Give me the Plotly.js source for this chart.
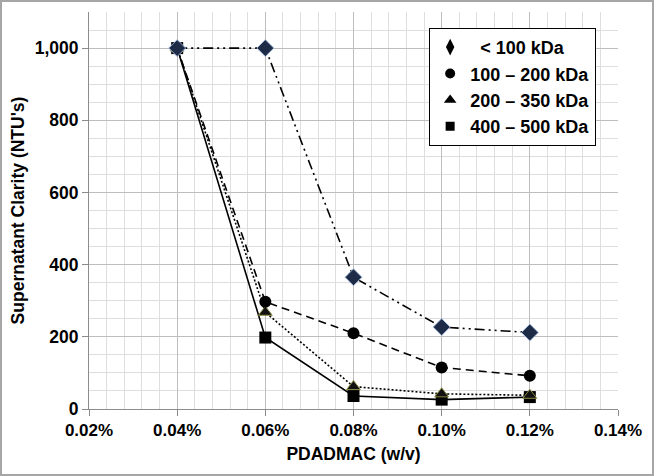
<!DOCTYPE html>
<html><head><meta charset="utf-8">
<script src="https://cdn.plot.ly/plotly-3.0.1.min.js"></script>
<style>body{margin:0;background:#fff}#wrap{position:relative;width:654px;height:476px}#chart{width:654px;height:476px}#frame{position:absolute;left:0;top:0;width:654px;height:476px;box-sizing:border-box;border:2px solid #a6a6a6;pointer-events:none}</style>
</head><body>
<div id="wrap"><div id="chart"></div><div id="frame"></div></div>
<script>
const dose = [0.0004, 0.0006, 0.0008, 0.0010, 0.0012];
const seriesNames = ['< 100 kDa', '100 – 200 kDa', '200 – 350 kDa', '400 – 500 kDa'];
const lt100 = [1000, 1000, 365, 227, 212];
const s100_200 = [1000, 297, 210, 115, 92];
const s200_350 = [1000, 268, 62, 42, 38];
const s400_500 = [1000, 198, 36, 26, 33];
const xTickVals = [0.0002, 0.0004, 0.0006, 0.0008, 0.0010, 0.0012, 0.0014];
const xTickText = ['0.02%', '0.04%', '0.06%', '0.08%', '0.10%', '0.12%', '0.14%'];
const yTickVals = [0, 200, 400, 600, 800, 1000];
const yTickText = ['0', '200', '400', '600', '800', '1,000'];

const values = [lt100, s100_200, s200_350, s400_500];
const dashes = ['10px,4px,2px,4px,2px,4px', '8px,5px', '2px,2px', 'solid'];
const markers = [
  {symbol: 'diamond', size: 13, color: '#1d2b47', line: {color: '#9fb4d8', width: 1}},
  {symbol: 'circle', size: 12, color: '#000', line: {color: '#000', width: 0}},
  {symbol: 'triangle-up', size: 12, color: '#111', line: {color: '#8a8a40', width: 1}},
  {symbol: 'square', size: 12, color: '#000', line: {color: '#000', width: 0}}
];
const legendMarkers = [
  {symbol: 'diamond-tall', size: 12, color: '#000'},
  {symbol: 'circle', size: 10, color: '#000'},
  {symbol: 'triangle-up', size: 11, color: '#000'},
  {symbol: 'square', size: 9, color: '#000'}
];
const legendLabels = [' &nbsp;< 100 kDa', '100 – 200 kDa', '200 – 350 kDa', '400 – 500 kDa'];

const traces = [];
for (let i = 3; i >= 0; i--) {
  traces.push({
    x: dose, y: values[i], type: 'scatter', mode: 'lines+markers',
    name: seriesNames[i], showlegend: false,
    line: {color: '#000', width: 1.6, dash: dashes[i]},
    marker: markers[i]
  });
}
for (let i = 0; i < 4; i++) {
  traces.push({
    x: [null], y: [null], type: 'scatter', mode: 'markers',
    name: legendLabels[i], showlegend: true, marker: legendMarkers[i]
  });
}

const layout = {
  width: 654, height: 476,
  margin: {l: 89, r: 36, t: 12, b: 67},
  paper_bgcolor: '#fff', plot_bgcolor: '#fff',
  font: {family: 'Liberation Sans, Arial, sans-serif', color: '#000'},
  showlegend: true,
  legend: {
    x: 0.643, y: 0.96, xanchor: 'left', yanchor: 'top',
    bgcolor: '#fff', bordercolor: '#000', borderwidth: 1,
    font: {size: 18, weight: 'bold', family: 'Liberation Sans, Arial, sans-serif'},
    tracegroupgap: 0, itemwidth: 30
  },
  xaxis: {
    range: [0.0002, 0.0014], tickvals: xTickVals, ticktext: xTickText,
    tickfont: {size: 17, weight: 'bold'},
    showgrid: true, gridcolor: '#bdbdbd', gridwidth: 1,
    minor: {dtick: 0.00004, showgrid: true, gridcolor: '#dedede', gridwidth: 1},
    showline: true, linecolor: '#8c8c8c', linewidth: 1,
    ticks: 'outside', ticklen: 6, tickcolor: '#8c8c8c',
    zeroline: false,
    title: {text: 'PDADMAC (w/v)', font: {size: 17.5, weight: 'bold'}, standoff: 8}
  },
  yaxis: {
    range: [0, 1100], tickvals: yTickVals, ticktext: yTickText,
    tickfont: {size: 17.5, weight: 'bold'},
    showgrid: true, gridcolor: '#bdbdbd', gridwidth: 1,
    minor: {dtick: 50, showgrid: true, gridcolor: '#dedede', gridwidth: 1},
    showline: true, linecolor: '#8c8c8c', linewidth: 1,
    ticks: 'outside', ticklen: 6, tickcolor: '#8c8c8c',
    zeroline: false,
    title: {text: "Supernatant Clarity (NTU's)", font: {size: 17.5, weight: 'bold'}, standoff: 5}
  }
};
Plotly.newPlot('chart', traces, layout, {displayModeBar: false, staticPlot: true});
</script>
</body></html>
